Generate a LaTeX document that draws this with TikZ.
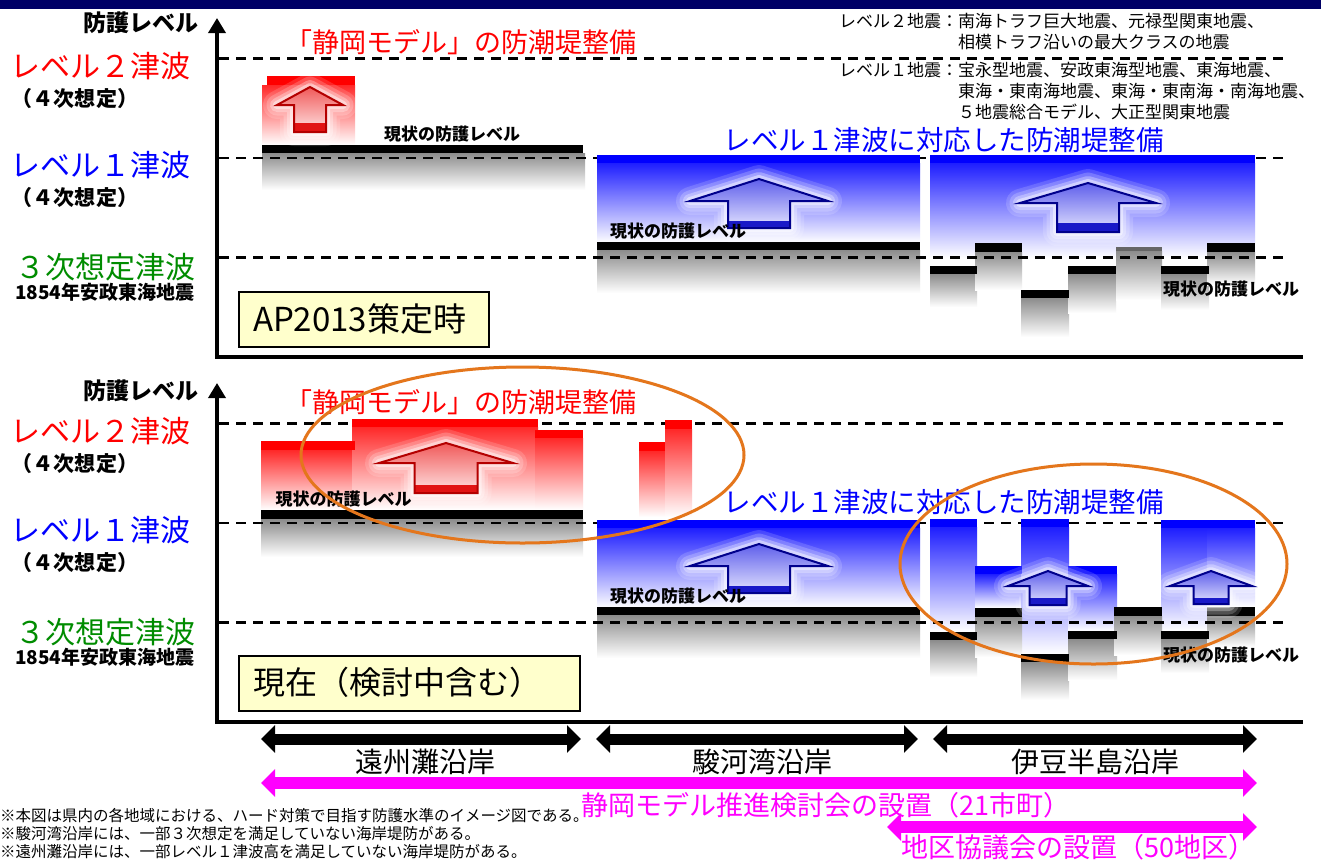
\documentclass[tikz,border=0pt]{standalone}
\usepackage{fontspec}
\setmainfont{Noto Sans CJK JP}
\usetikzlibrary{arrows.meta}
\definecolor{navy}{RGB}{0,0,102}
\definecolor{lvred}{RGB}{255,0,0}
\definecolor{lvblue}{RGB}{0,0,255}
\definecolor{lvgreen}{RGB}{0,140,0}
\definecolor{orng}{RGB}{228,118,28}
\definecolor{mag}{RGB}{255,0,255}
\definecolor{boxyellow}{RGB}{255,255,204}
\definecolor{gradred}{RGB}{255,40,40}
\definecolor{gradblue}{RGB}{30,30,255}
\definecolor{arrRedLine}{RGB}{180,0,0}
\definecolor{arrRedTop}{RGB}{240,90,90}
\definecolor{arrRedBot}{RGB}{255,228,228}
\definecolor{arrRedBand}{RGB}{225,20,20}
\definecolor{arrBlueLine}{RGB}{0,0,140}
\definecolor{arrBlueTop}{RGB}{95,95,235}
\definecolor{arrBlueBot}{RGB}{228,228,255}
\definecolor{arrBlueBand}{RGB}{25,25,200}
\newcommand{\fs}[1]{\fontsize{#1}{#1}\selectfont}
% one soft white glow layer round the arrow outline
\newcommand{\GlowLayer}[9]{%
  \draw[white, line width=#8, opacity=#9, line join=round] (#1,#2) -- (#1+#3,#4) -- (#1+#5,#4) -- (#1+#5,#6) -- (#1-#5,#6) -- (#1-#5,#4) -- (#1-#3,#4) -- cycle;
}
% up arrow: cx, tip y, head half width, head base y, stem half width, bottom y, band top y, colour set
\newcommand{\UpArr}[8]{%
  \GlowLayer{#1}{#2}{#3}{#4}{#5}{#6}{#7}{28pt}{0.15}
  \GlowLayer{#1}{#2}{#3}{#4}{#5}{#6}{#7}{21pt}{0.2}
  \GlowLayer{#1}{#2}{#3}{#4}{#5}{#6}{#7}{14pt}{0.3}
  \GlowLayer{#1}{#2}{#3}{#4}{#5}{#6}{#7}{8pt}{0.45}
  \shade[top color=arr#8Top, bottom color=arr#8Bot] (#1,#2) -- (#1+#3,#4) -- (#1+#5,#4) -- (#1+#5,#6) -- (#1-#5,#6) -- (#1-#5,#4) -- (#1-#3,#4) -- cycle;
  \fill[arr#8Band] (#1-#5,#7) rectangle (#1+#5,#6);
  \draw[arr#8Line, line width=2pt] (#1,#2) -- (#1+#3,#4) -- (#1+#5,#4) -- (#1+#5,#6) -- (#1-#5,#6) -- (#1-#5,#4) -- (#1-#3,#4) -- cycle;
}
\tikzset{
  txt/.style={inner sep=0pt, outer sep=0pt},
  lvldash/.style={line width=2.5pt, dash pattern=on 10pt off 7pt},
  greyfade/.style={top color=black!45, bottom color=white},
  redfade/.style={top color=gradred, bottom color=white},
  bluefade/.style={top color=gradblue, bottom color=white},
  axisline/.style={line width=3.5pt, line join=miter, {Triangle[width=17pt,length=15pt]}-},
  boxst/.style={draw=black, line width=1.5pt, fill=boxyellow, inner sep=0pt, anchor=north west},
  blkdbl/.style={line width=11pt, {Triangle[width=27pt,length=14pt]}-{Triangle[width=27pt,length=14pt]}},
  magdbl/.style={mag, line width=12pt, {Triangle[width=27pt,length=14pt]}-{Triangle[width=27pt,length=14pt]}},
  ring/.style={orng, line width=3pt},
  curlvl/.style={txt, font=\fs{17}\bfseries},
}
\begin{document}
\begin{tikzpicture}[x=1pt,y=-1pt]
\useasboundingbox (0,0) rectangle (1321,863);
\fill[white] (0,0) rectangle (1321,863);
\fill[navy] (0,0) rectangle (1321,9);

% ---------------- gradients ----------------
% upper Enshu
\shade[greyfade] (262,153) rectangle (585,190);
\shade[redfade] (262,85) rectangle (355,145);
% Suruga (both panels)
\foreach \dy in {0,365} {
  \shade[bluefade] (597,163+\dy) rectangle (920,243+\dy);
  \shade[greyfade] (597,250+\dy) rectangle (920,293+\dy);
}
% upper Izu
\shade[bluefade] (930,163) rectangle (1255,258);
\foreach \xa/\xb/\ya/\yb in {930/977/274/307, 975/1022/252/290, 1021/1069/298/337, 1068/1116/274/313, 1116/1162/251/300, 1161/1209/274/310, 1207/1255/252/285}
  \shade[greyfade] (\xa,\ya) rectangle (\xb,\yb);
% lower Enshu
\shade[greyfade] (261,519) rectangle (583,557);
\shade[redfade] (261,450) rectangle (355,510);
\shade[redfade] (352,427) rectangle (538,510);
\shade[redfade] (535,438) rectangle (583,510);
\shade[redfade] (639,451) rectangle (665,517);
\shade[redfade] (665,429) rectangle (692,517);
% lower Izu
\foreach \xa/\xb/\ya/\yb in {930/977/527/632, 975/1022/574/608, 1021/1069/527/654, 1068/1117/574/631, 1161/1209/528/631, 1207/1255/528/607}
  \shade[bluefade] (\xa,\ya) rectangle (\xb,\yb);
\foreach \xa/\xb/\ya/\yb in {930/977/640/677, 975/1022/617/657, 1021/1069/662/700, 1068/1117/639/680, 1114/1162/616/655, 1161/1209/639/673, 1207/1255/616/647}
  \shade[greyfade] (\xa,\ya) rectangle (\xb,\yb);

% ---------------- dashed levels ----------------
\foreach \dy in {0,365}
  \foreach \yy in {58.7,158,257.7}
    \draw[lvldash] (219,\yy+\dy) -- (1288,\yy+\dy);

% ---------------- bars ----------------
% upper Enshu
\fill[lvred] (267,76) rectangle (355,85);
\fill[black] (262,145) rectangle (583,153);
% Suruga
\foreach \dy in {0,365} {
  \fill[lvblue] (597,155+\dy) rectangle (920,163+\dy);
  \fill[black] (597,242+\dy) rectangle (920,250+\dy);
}
% upper Izu
\fill[lvblue] (930,155) rectangle (1255,163);
\foreach \xa/\xb/\ya/\yb in {930/977/266/274, 975/1022/243/252, 1021/1069/290/298, 1068/1116/266/274, 1161/1209/266/274, 1207/1255/243/252}
  \fill[black] (\xa,\ya) rectangle (\xb,\yb);
\fill[black!60] (1116,247) rectangle (1162,251);
% lower Enshu
\fill[lvred] (261,441) rectangle (355,450);
\fill[lvred] (352,419) rectangle (538,427);
\fill[lvred] (535,430) rectangle (583,438);
\fill[lvred] (639,442) rectangle (665,451);
\fill[lvred] (665,420) rectangle (692,429);
\fill[black] (261,510) rectangle (583,519);
% lower Izu
\foreach \xa/\xb/\ya/\yb in {930/977/519/527, 975/1022/566/574, 1021/1069/519/527, 1068/1117/566/574, 1161/1255/520/528}
  \fill[lvblue] (\xa,\ya) rectangle (\xb,\yb);
\foreach \xa/\xb/\ya/\yb in {930/977/632/640, 975/1022/608/617, 1021/1069/654/662, 1068/1117/631/639, 1114/1162/607/616, 1161/1209/631/639, 1207/1255/607/616}
  \fill[black] (\xa,\ya) rectangle (\xb,\yb);

% ---------------- up arrows ----------------
\UpArr{310}{87}{33}{105}{16}{132}{123}{Red}
\UpArr{759}{179}{69}{201}{31}{228}{221}{Blue}
\UpArr{1088}{183}{68}{203}{31}{232}{223}{Blue}
\UpArr{446}{443}{67}{463}{31.5}{493}{485}{Red}
\UpArr{759}{544}{69}{566}{31}{593}{586}{Blue}
\UpArr{1048}{571}{40}{586}{18.5}{605}{598}{Blue}
\UpArr{1211}{571}{41}{586}{17.5}{604}{598}{Blue}

% ---------------- "current level" labels ----------------
\node[curlvl] (u-cur1) at (452,134) {現状の防護レベル};
\node[curlvl] (u-cur2) at (678,231) {現状の防護レベル};
\node[curlvl] (u-cur3) at (1231,289) {現状の防護レベル};
\node[curlvl] (d-cur1) at (343.5,499) {現状の防護レベル};
\node[curlvl] (d-cur2) at (678,596) {現状の防護レベル};
\node[curlvl] (d-cur3) at (1231,655) {現状の防護レベル};

% ---------------- titles ----------------
\node[txt, text=lvred, font=\fs{27}] (u-redt) at (461,42) {「静岡モデル」の防潮堤整備};
\node[txt, text=lvblue, font=\fs{27.5}] (u-bluet) at (943.5,140) {レベル１津波に対応した防潮堤整備};
\node[txt, text=lvred, font=\fs{27}] (d-redt) at (461,402) {「静岡モデル」の防潮堤整備};
\node[txt, text=lvblue, font=\fs{27.5}] (d-bluet) at (943.5,502) {レベル１津波に対応した防潮堤整備};

% ---------------- legend ----------------
\node[txt, anchor=west, font=\fs{17}] (lg1) at (839,21) {レベル２地震：南海トラフ巨大地震、元禄型関東地震、};
\node[txt, anchor=west, font=\fs{17}] (lg2) at (958,42) {相模トラフ沿いの最大クラスの地震};
\node[txt, anchor=west, font=\fs{17}] (lg3) at (839,70) {レベル１地震：宝永型地震、安政東海型地震、東海地震、};
\node[txt, anchor=west, font=\fs{17}] (lg4) at (958,91) {東海・東南海地震、東海・東南海・南海地震、};
\node[txt, anchor=west, font=\fs{17}] (lg5) at (958,112) {５地震総合モデル、大正型関東地震};

% ---------------- axes and level labels ----------------
\foreach \p/\dy/\ay in {u/0/23,d/365/391} {
  \coordinate (\p-o) at (217,357+\dy);
  \coordinate (\p-top) at (217,18+\dy);
  \coordinate (\p-xend) at (1303,357+\dy);
  \draw[axisline] (\p-top) -- (\p-o) -- (\p-xend);
  \node[txt, anchor=east, font=\fs{23}\bfseries] (\p-axl) at (198,\ay) {防護レベル};
  \node[txt, anchor=west, text=lvred, font=\fs{30}] (\p-l2) at (10,66+\dy) {レベル２津波};
  \node[txt, anchor=west, font=\fs{21}\bfseries] (\p-l2s) at (12,99+\dy) {（４次想定）};
  \node[txt, anchor=west, text=lvblue, font=\fs{30}] (\p-l1) at (10,165+\dy) {レベル１津波};
  \node[txt, anchor=west, font=\fs{21}\bfseries] (\p-l1s) at (12,198+\dy) {（４次想定）};
  \node[txt, anchor=west, text=lvgreen, font=\fs{30}] (\p-l3) at (15,267+\dy) {３次想定津波};
  \node[txt, anchor=west, font=\fs{19}\bfseries] (\p-l3s) at (15,292+\dy) {1854年安政東海地震};
}

% ---------------- state boxes ----------------
\node[boxst, minimum width=250pt, minimum height=55pt] (u-box) at (238,291) {};
\node[txt, anchor=west, font=\fs{33}] (u-boxt) at (253,318.5) {AP2013策定時};
\node[boxst, minimum width=341pt, minimum height=55pt] (d-box) at (238,655) {};
\node[txt, anchor=west, font=\fs{32}] (d-boxt) at (253,682.5) {現在（検討中含む）};

% ---------------- rings ----------------
\draw[ring] (522.5,455) ellipse [x radius=221.5pt, y radius=88pt];
\draw[ring] (1093.5,564) ellipse [x radius=193.5pt, y radius=100pt];

% ---------------- coast spans ----------------
\coordinate (en-l) at (261,739);
\coordinate (en-r) at (581,739);
\coordinate (su-l) at (596,739);
\coordinate (su-r) at (918,739);
\coordinate (iz-l) at (933,739);
\coordinate (iz-r) at (1257,739);
\draw[blkdbl] (en-l) -- (en-r);
\draw[blkdbl] (su-l) -- (su-r);
\draw[blkdbl] (iz-l) -- (iz-r);
\node[txt, font=\fs{28}] (en-t) at (425.5,762) {遠州灘沿岸};
\node[txt, font=\fs{28}] (su-t) at (762.5,762) {駿河湾沿岸};
\node[txt, font=\fs{28}] (iz-t) at (1095,762) {伊豆半島沿岸};

\coordinate (m1-l) at (261,783);
\coordinate (m1-r) at (1257,783);
\draw[magdbl] (m1-l) -- (m1-r);
\node[txt, text=mag, font=\fs{27}] (m1-t) at (826,805) {静岡モデル推進検討会の設置（21市町）};
\coordinate (m2-l) at (887,827);
\coordinate (m2-r) at (1257,827);
\draw[magdbl] (m2-l) -- (m2-r);
\node[txt, text=mag, font=\fs{27}] (m2-t) at (1078,847) {地区協議会の設置（50地区）};

% ---------------- notes ----------------
\node[txt, anchor=west, font=\fs{15.5}] (n1) at (0,816) {※本図は県内の各地域における、ハード対策で目指す防護水準のイメージ図である。};
\node[txt, anchor=west, font=\fs{15.5}] (n2) at (0,834) {※駿河湾沿岸には、一部３次想定を満足していない海岸堤防がある。};
\node[txt, anchor=west, font=\fs{15.5}] (n3) at (0,852) {※遠州灘沿岸には、一部レベル１津波高を満足していない海岸堤防がある。};
\end{tikzpicture}
\end{document}
